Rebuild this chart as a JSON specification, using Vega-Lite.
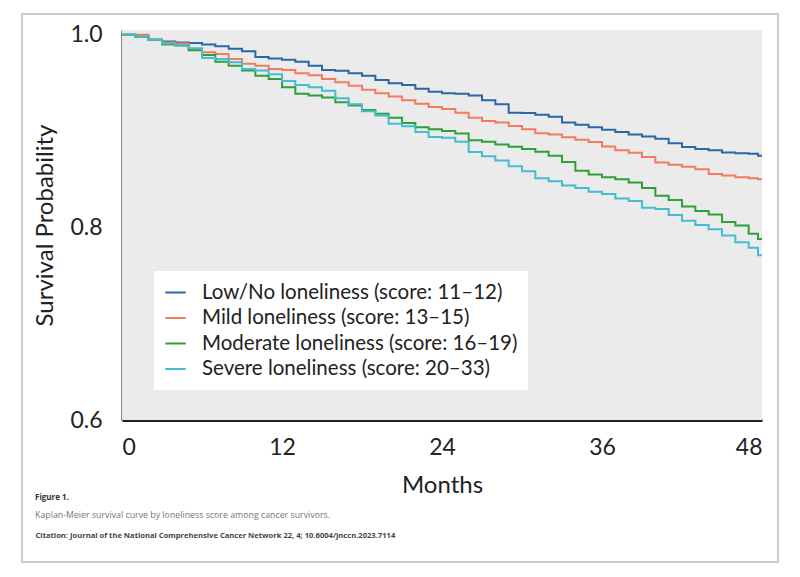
{
  "$schema": "https://vega.github.io/schema/vega-lite/v6.json",
  "width": 756,
  "height": 548,
  "autosize": {"type": "none"},
  "padding": {"left": 22, "top": 14, "right": 22, "bottom": 15},
  "background": "white",
  "config": {
    "font": "Lato",
    "view": {"stroke": "#bdbdbd", "strokeWidth": 1.5, "fill": "white"}
  },
  "title": {
    "text": "Figure 1.",
    "subtitle": "Kaplan-Meier survival curve by loneliness score among cancer survivors.",
    "orient": "bottom",
    "anchor": "start",
    "frame": "group",
    "offset": -68,
    "dx": 13,
    "font": "Open Sans",
    "fontSize": 8,
    "fontWeight": "bold",
    "color": "#333333",
    "subtitleFont": "Open Sans",
    "subtitleFontSize": 8.8,
    "subtitleColor": "#777777",
    "subtitlePadding": 9
  },
  "resolve": {"axis": {"x": "independent"}},
  "layer": [
    {
      "data": {"values": [{"m0": 0, "m1": 48, "s0": 0.6, "s1": 1.005}]},
      "mark": {"type": "rect", "color": "#ebebeb"},
      "encoding": {
        "x": {
          "field": "m0", "type": "quantitative",
          "scale": {"domain": [0, 48], "range": [100, 740], "nice": false, "zero": false},
          "axis": {
            "orient": "bottom", "offset": -31,
            "labels": false, "ticks": false, "domain": false, "grid": false,
            "title": "Citation: Journal of the National Comprehensive Cancer Network 22, 4; 10.6004/jnccn.2023.7114",
            "titleX": 13, "titleY": 0, "titleAlign": "left", "titleBaseline": "top",
            "titleFont": "Open Sans", "titleFontSize": 7.6, "titleFontWeight": "bold", "titleColor": "#444444"
          }
        },
        "x2": {"field": "m1"},
        "y": {
          "field": "s0", "type": "quantitative",
          "scale": {"domain": [0.6, 1.005], "range": [406, 16], "nice": false, "zero": false},
          "axis": {
            "orient": "left", "offset": -100, "values": [0.6, 0.8, 1.0], "format": ".1f",
            "title": "Survival Probability", "ticks": false, "grid": false,
            "domainColor": "#111111", "domainWidth": 2,
            "labelFontSize": 23, "labelColor": "#222222", "labelPadding": 20,
            "titleFontSize": 24, "titleFontWeight": "normal", "titleColor": "#222222", "titlePadding": 12
          }
        },
        "y2": {"field": "s1"}
      }
    },
    {
      "data": {"values": [
        {"g":"Low/No","m":0,"s":1.0},{"g":"Low/No","m":1,"s":0.998},{"g":"Low/No","m":2,"s":0.995},{"g":"Low/No","m":3,"s":0.993},
        {"g":"Low/No","m":4,"s":0.992},{"g":"Low/No","m":5,"s":0.9915},{"g":"Low/No","m":6,"s":0.990},{"g":"Low/No","m":7,"s":0.988},
        {"g":"Low/No","m":8,"s":0.9855},{"g":"Low/No","m":9,"s":0.983},{"g":"Low/No","m":10,"s":0.977},{"g":"Low/No","m":11,"s":0.9755},
        {"g":"Low/No","m":12,"s":0.974},{"g":"Low/No","m":13,"s":0.972},{"g":"Low/No","m":14,"s":0.968},{"g":"Low/No","m":15,"s":0.9635},
        {"g":"Low/No","m":16,"s":0.9628},{"g":"Low/No","m":17,"s":0.960},{"g":"Low/No","m":18,"s":0.9576},{"g":"Low/No","m":19,"s":0.953},
        {"g":"Low/No","m":20,"s":0.9497},{"g":"Low/No","m":21,"s":0.948},{"g":"Low/No","m":22,"s":0.944},{"g":"Low/No","m":23,"s":0.941},
        {"g":"Low/No","m":24,"s":0.9394},{"g":"Low/No","m":25,"s":0.9387},{"g":"Low/No","m":26,"s":0.937},{"g":"Low/No","m":27,"s":0.932},
        {"g":"Low/No","m":28,"s":0.928},{"g":"Low/No","m":29,"s":0.919},{"g":"Low/No","m":30,"s":0.9187},{"g":"Low/No","m":31,"s":0.917},
        {"g":"Low/No","m":32,"s":0.915},{"g":"Low/No","m":33,"s":0.909},{"g":"Low/No","m":34,"s":0.9067},{"g":"Low/No","m":35,"s":0.904},
        {"g":"Low/No","m":36,"s":0.9015},{"g":"Low/No","m":37,"s":0.899},{"g":"Low/No","m":38,"s":0.8965},{"g":"Low/No","m":39,"s":0.8945},
        {"g":"Low/No","m":40,"s":0.892},{"g":"Low/No","m":41,"s":0.8875},{"g":"Low/No","m":42,"s":0.8835},{"g":"Low/No","m":43,"s":0.8815},
        {"g":"Low/No","m":44,"s":0.880},{"g":"Low/No","m":45,"s":0.8778},{"g":"Low/No","m":46,"s":0.877},{"g":"Low/No","m":47,"s":0.8765},
        {"g":"Low/No","m":47.7,"s":0.8745},{"g":"Low/No","m":48,"s":0.8745},

        {"g":"Mild","m":0,"s":1.0},{"g":"Mild","m":1,"s":1.0},{"g":"Mild","m":2,"s":0.995},{"g":"Mild","m":3,"s":0.992},
        {"g":"Mild","m":4,"s":0.991},{"g":"Mild","m":5,"s":0.985},{"g":"Mild","m":6,"s":0.982},{"g":"Mild","m":7,"s":0.980},
        {"g":"Mild","m":8,"s":0.975},{"g":"Mild","m":9,"s":0.970},{"g":"Mild","m":10,"s":0.968},{"g":"Mild","m":11,"s":0.9645},
        {"g":"Mild","m":12,"s":0.9635},{"g":"Mild","m":13,"s":0.960},{"g":"Mild","m":14,"s":0.958},{"g":"Mild","m":15,"s":0.954},
        {"g":"Mild","m":16,"s":0.9507},{"g":"Mild","m":17,"s":0.947},{"g":"Mild","m":18,"s":0.943},{"g":"Mild","m":19,"s":0.9394},
        {"g":"Mild","m":20,"s":0.936},{"g":"Mild","m":21,"s":0.932},{"g":"Mild","m":22,"s":0.9284},{"g":"Mild","m":23,"s":0.925},
        {"g":"Mild","m":24,"s":0.923},{"g":"Mild","m":25,"s":0.919},{"g":"Mild","m":26,"s":0.914},{"g":"Mild","m":27,"s":0.9106},
        {"g":"Mild","m":28,"s":0.909},{"g":"Mild","m":29,"s":0.9054},{"g":"Mild","m":30,"s":0.902},{"g":"Mild","m":31,"s":0.8977},
        {"g":"Mild","m":32,"s":0.8964},{"g":"Mild","m":33,"s":0.8936},{"g":"Mild","m":34,"s":0.891},{"g":"Mild","m":35,"s":0.8887},
        {"g":"Mild","m":36,"s":0.884},{"g":"Mild","m":37,"s":0.880},{"g":"Mild","m":38,"s":0.8775},{"g":"Mild","m":39,"s":0.873},
        {"g":"Mild","m":40,"s":0.8675},{"g":"Mild","m":41,"s":0.865},{"g":"Mild","m":42,"s":0.863},{"g":"Mild","m":43,"s":0.8605},
        {"g":"Mild","m":44,"s":0.8555},{"g":"Mild","m":45,"s":0.854},{"g":"Mild","m":46,"s":0.852},{"g":"Mild","m":47,"s":0.851},
        {"g":"Mild","m":47.7,"s":0.850},{"g":"Mild","m":48,"s":0.850},

        {"g":"Moderate","m":0,"s":1.0},{"g":"Moderate","m":1,"s":0.998},{"g":"Moderate","m":2,"s":0.995},{"g":"Moderate","m":3,"s":0.990},
        {"g":"Moderate","m":4,"s":0.989},{"g":"Moderate","m":5,"s":0.984},{"g":"Moderate","m":6,"s":0.979},{"g":"Moderate","m":7,"s":0.972},
        {"g":"Moderate","m":8,"s":0.968},{"g":"Moderate","m":9,"s":0.963},{"g":"Moderate","m":10,"s":0.9576},{"g":"Moderate","m":11,"s":0.954},
        {"g":"Moderate","m":12,"s":0.9455},{"g":"Moderate","m":13,"s":0.9387},{"g":"Moderate","m":14,"s":0.937},{"g":"Moderate","m":15,"s":0.935},
        {"g":"Moderate","m":16,"s":0.930},{"g":"Moderate","m":17,"s":0.9266},{"g":"Moderate","m":18,"s":0.922},{"g":"Moderate","m":19,"s":0.918},
        {"g":"Moderate","m":20,"s":0.914},{"g":"Moderate","m":21,"s":0.9085},{"g":"Moderate","m":22,"s":0.904},{"g":"Moderate","m":23,"s":0.902},
        {"g":"Moderate","m":24,"s":0.900},{"g":"Moderate","m":25,"s":0.8975},{"g":"Moderate","m":26,"s":0.8906},{"g":"Moderate","m":27,"s":0.889},
        {"g":"Moderate","m":28,"s":0.886},{"g":"Moderate","m":29,"s":0.8837},{"g":"Moderate","m":30,"s":0.8813},{"g":"Moderate","m":31,"s":0.8785},
        {"g":"Moderate","m":32,"s":0.8744},{"g":"Moderate","m":33,"s":0.868},{"g":"Moderate","m":34,"s":0.8588},{"g":"Moderate","m":35,"s":0.855},
        {"g":"Moderate","m":36,"s":0.852},{"g":"Moderate","m":37,"s":0.850},{"g":"Moderate","m":38,"s":0.8466},{"g":"Moderate","m":39,"s":0.841},
        {"g":"Moderate","m":40,"s":0.833},{"g":"Moderate","m":41,"s":0.8285},{"g":"Moderate","m":42,"s":0.8216},{"g":"Moderate","m":43,"s":0.817},
        {"g":"Moderate","m":44,"s":0.8135},{"g":"Moderate","m":45,"s":0.8056},{"g":"Moderate","m":46,"s":0.802},{"g":"Moderate","m":47,"s":0.7935},
        {"g":"Moderate","m":47.7,"s":0.788},{"g":"Moderate","m":48,"s":0.788},

        {"g":"Severe","m":0,"s":1.0},{"g":"Severe","m":1,"s":0.998},{"g":"Severe","m":2,"s":0.995},{"g":"Severe","m":3,"s":0.991},
        {"g":"Severe","m":4,"s":0.989},{"g":"Severe","m":5,"s":0.986},{"g":"Severe","m":6,"s":0.976},{"g":"Severe","m":7,"s":0.975},
        {"g":"Severe","m":8,"s":0.9714},{"g":"Severe","m":9,"s":0.9645},{"g":"Severe","m":10,"s":0.963},{"g":"Severe","m":11,"s":0.959},
        {"g":"Severe","m":12,"s":0.952},{"g":"Severe","m":13,"s":0.948},{"g":"Severe","m":14,"s":0.9455},{"g":"Severe","m":15,"s":0.942},
        {"g":"Severe","m":16,"s":0.934},{"g":"Severe","m":17,"s":0.928},{"g":"Severe","m":18,"s":0.9207},{"g":"Severe","m":19,"s":0.9163},
        {"g":"Severe","m":20,"s":0.9077},{"g":"Severe","m":21,"s":0.905},{"g":"Severe","m":22,"s":0.899},{"g":"Severe","m":23,"s":0.894},
        {"g":"Severe","m":24,"s":0.893},{"g":"Severe","m":25,"s":0.889},{"g":"Severe","m":26,"s":0.8784},{"g":"Severe","m":27,"s":0.874},
        {"g":"Severe","m":28,"s":0.8695},{"g":"Severe","m":29,"s":0.8636},{"g":"Severe","m":30,"s":0.8584},{"g":"Severe","m":31,"s":0.851},
        {"g":"Severe","m":32,"s":0.848},{"g":"Severe","m":33,"s":0.8435},{"g":"Severe","m":34,"s":0.841},{"g":"Severe","m":35,"s":0.837},
        {"g":"Severe","m":36,"s":0.8346},{"g":"Severe","m":37,"s":0.830},{"g":"Severe","m":38,"s":0.8274},{"g":"Severe","m":39,"s":0.8205},
        {"g":"Severe","m":40,"s":0.819},{"g":"Severe","m":41,"s":0.813},{"g":"Severe","m":42,"s":0.807},{"g":"Severe","m":43,"s":0.8026},
        {"g":"Severe","m":44,"s":0.798},{"g":"Severe","m":45,"s":0.7915},{"g":"Severe","m":46,"s":0.7846},{"g":"Severe","m":47,"s":0.779},
        {"g":"Severe","m":47.7,"s":0.771},{"g":"Severe","m":48,"s":0.771}
      ]},
      "mark": {"type": "line", "interpolate": "step-after", "strokeWidth": 2},
      "encoding": {
        "x": {
          "field": "m", "type": "quantitative",
          "scale": {"domain": [0, 48], "range": [100, 740], "nice": false, "zero": false},
          "axis": {
            "orient": "bottom", "offset": -142, "values": [0, 12, 24, 36, 48],
            "title": "Months", "ticks": false, "grid": false, "labelFlush": true,
            "domainColor": "#222222", "domainWidth": 3,
            "labelFontSize": 23, "labelColor": "#222222", "labelPadding": 16,
            "titleFontSize": 24, "titleFontWeight": "normal", "titleColor": "#222222", "titlePadding": 14
          }
        },
        "y": {
          "field": "s", "type": "quantitative",
          "scale": {"domain": [0.6, 1.005], "range": [406, 16], "nice": false, "zero": false},
          "axis": {
            "orient": "left", "offset": -100, "values": [0.6, 0.8, 1.0], "format": ".1f",
            "title": "Survival Probability", "ticks": false, "grid": false,
            "domainColor": "#111111", "domainWidth": 2,
            "labelFontSize": 23, "labelColor": "#222222", "labelPadding": 20,
            "titleFontSize": 24, "titleFontWeight": "normal", "titleColor": "#222222", "titlePadding": 12
          }
        },
        "color": {
          "field": "g", "type": "nominal",
          "scale": {
            "domain": ["Low/No", "Mild", "Moderate", "Severe"],
            "range": ["#2d67a6", "#f47b5c", "#2f9f3a", "#43bdd0"]
          },
          "legend": {
            "orient": "none", "legendX": 132, "legendY": 257,
            "title": null, "fillColor": "white", "padding": 10,
            "symbolType": "stroke", "symbolStrokeWidth": 2, "symbolSize": 420,
            "labelFontSize": 20.5, "labelColor": "#222222", "labelOffset": 15, "rowPadding": 3.5,
            "labelLimit": 400,
            "labelExpr": "{'Low/No': 'Low/No loneliness (score: 11–12)', 'Mild': 'Mild loneliness (score: 13–15)', 'Moderate': 'Moderate loneliness (score: 16–19)', 'Severe': 'Severe loneliness (score: 20–33)'}[datum.label]"
          }
        }
      }
    }
  ]
}
